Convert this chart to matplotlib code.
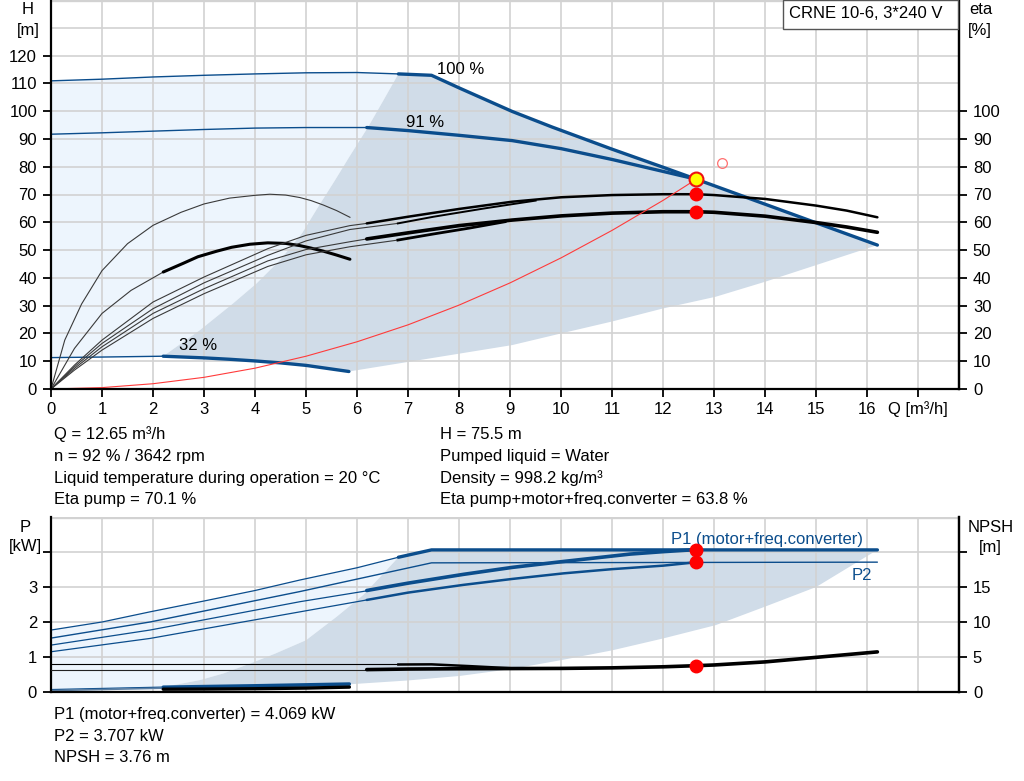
import matplotlib
matplotlib.use('Agg')
import matplotlib.pyplot as plt
from matplotlib.patches import Rectangle

plt.rcParams['font.family'] = ['Liberation Sans', 'DejaVu Sans']
plt.rcParams['font.size'] = 12

# ---------------- data: head chart ----------------
q_h100_thin = [0, 1, 2, 3, 4, 5, 6, 6.81]
h_h100_thin = [110.9, 111.5, 112.3, 112.9, 113.4, 113.8, 113.9, 113.4]
q_h100 = [6.81, 7.46, 8.02, 9.04, 9.82, 11, 12, 12.65, 14, 15, 16.2]
h_h100 = [113.4, 112.9, 108.2, 99.9, 94.3, 86.3, 79.8, 75.5, 66.5, 59.8, 51.8]
q_h91_thin = [0, 1, 2, 3, 4, 5, 6.19]
h_h91_thin = [91.7, 92.2, 92.8, 93.4, 93.9, 94.1, 94.1]
q_h91 = [6.19, 7, 8, 9.04, 10, 11, 12, 12.65]
h_h91 = [94.1, 93.0, 91.3, 89.4, 86.5, 82.6, 78.3, 75.5]
q_h32_thin = [0, 1, 2.2]
h_h32_thin = [11.3, 11.5, 11.8]
q_h32 = [2.2, 3, 3.5, 4, 4.5, 5, 5.84]
h_h32 = [11.8, 11.2, 10.7, 10.1, 9.4, 8.5, 6.3]

q_left = [2.2, 2.92, 3.57, 4.03, 4.49, 4.92, 5.24, 5.57, 5.85, 6.22, 6.52, 6.81]
h_left = [11.8, 21.2, 30.8, 38, 46.4, 56, 65.6, 75.2, 83.6, 94.4, 104, 113.4]
q_right = [5.84, 9.04, 10, 11, 12, 13.03, 14, 15, 16.2]
h_right = [6.3, 15.8, 20, 24.3, 29, 33.2, 38.6, 44.6, 51.8]

q_eta32_pump = [0, 0.27, 0.6, 1.0, 1.5, 2.0, 2.55, 3.0, 3.5, 4.0, 4.29, 4.6, 4.88, 5.1, 5.34, 5.6, 5.86]
eta32_pump = [0, 17.6, 30.6, 42.6, 52.3, 58.9, 63.6, 66.6, 68.7, 69.7, 70.1, 69.8, 68.9, 67.8, 66.2, 64.2, 61.8]
q_eta32_tot = [0, 0.46, 1.0, 1.57, 2.2, 2.6, 2.88, 3.25, 3.54, 3.9, 4.25, 4.6, 4.88, 5.1, 5.34, 5.6, 5.86]
eta32_tot = [0, 14.6, 27.2, 35.5, 42.1, 45.3, 47.6, 49.6, 51.0, 52.1, 52.6, 52.4, 51.6, 50.7, 49.6, 48.2, 46.7]

q_etaA = [0, 0.46, 1, 2, 3, 4.25, 5.0, 5.86, 6.19, 7, 8, 9.04, 10, 11, 12, 12.65, 13, 14, 15, 15.6, 16.2]
etaA = [0, 8.6, 17.6, 31.3, 40.3, 50.5, 55.3, 58.8, 59.6, 62, 64.8, 67.4, 69, 69.8, 70.1, 70.1, 69.8, 68.4, 66, 64.2, 61.8]
q_etaB = [0, 0.46, 1, 2, 3, 4.25, 5.0, 5.86, 6.8, 7.5, 8.5, 9.5]
etaB = [0, 8.0, 16.4, 28.9, 38.2, 48.1, 53.3, 57.4, 59.6, 62.0, 65.0, 67.8]
q_etaC = [0, 0.46, 1, 2, 3, 4.25, 5.0, 5.86, 6.19, 7, 8, 9.04, 10, 11, 12, 12.65, 13, 14, 15, 15.6, 16.2]
etaC = [0, 7.4, 15.2, 27.2, 36.1, 46.1, 50.2, 53, 54, 56.2, 58.8, 60.8, 62.3, 63.3, 63.8, 63.8, 63.6, 62.2, 59.9, 58.3, 56.4]
q_etaD = [0, 0.46, 1, 2, 3, 4.25, 5.0, 5.86, 6.8, 7.5, 8.2, 8.9]
etaD = [0, 6.8, 14.0, 25.4, 34.3, 44.1, 48.3, 51.2, 53.6, 55.8, 57.9, 60.2]

q_sys = [0, 1, 2, 3, 4, 5, 6, 7, 8, 9, 10, 11, 12, 12.65]
h_sys = [0, 0.5, 1.9, 4.2, 7.5, 11.8, 17, 23.1, 30.2, 38.2, 47.2, 57.1, 67.9, 75.5]

q_op = 12.65
h_op = 75.5
eta_pump_op = 70.1
eta_tot_op = 63.8
q_req, h_req = 13.15, 81.2

# ---------------- data: power / NPSH chart ----------------
q_p1_100_thin = [0, 1, 1.94, 3, 4, 4.88, 6, 6.81]
p1_100_thin = [1.77, 2.0, 2.29, 2.6, 2.9, 3.2, 3.55, 3.85]
q_p1_100 = [6.81, 7.46, 16.2]
p1_100 = [3.85, 4.06, 4.06]
q_p2_100_thin = [0, 1.94, 4.88, 7.46, 16.2]
p2_100_thin = [1.54, 2.0, 2.87, 3.69, 3.71]
q_p1_91_thin = [0, 1.94, 4.88, 6.19]
p1_91_thin = [1.34, 1.77, 2.58, 2.89]
q_p1_91 = [6.19, 7.0, 8.08, 9.04, 10.05, 11.35, 12, 12.65]
p1_91 = [2.9, 3.11, 3.36, 3.56, 3.73, 3.94, 4.01, 4.069]
q_p2_91_thin = [0, 1.94, 4.88, 6.19]
p2_91_thin = [1.15, 1.53, 2.29, 2.63]
q_p2_91 = [6.19, 7.0, 8.08, 9.04, 10.05, 11, 12, 12.65]
p2_91 = [2.63, 2.84, 3.06, 3.23, 3.39, 3.51, 3.61, 3.707]
q_p1_32_thin = [0, 2.2]
p1_32_thin = [0.07, 0.14]
q_p1_32 = [2.2, 4, 5.85]
p1_32 = [0.14, 0.18, 0.23]
q_p2_32 = [0, 2.2, 4, 5.85]
p2_32 = [0.04, 0.11, 0.14, 0.19]

q_pleft = [2.2, 2.92, 3.38, 3.9, 4.4, 5.0, 5.6, 6.12, 6.52, 6.81]
p_pleft = [0.14, 0.34, 0.53, 0.81, 1.1, 1.48, 2.15, 2.77, 3.39, 3.85]
q_pright = [5.85, 7.0, 8.02, 9.04, 10, 11, 12, 13.03, 14, 15, 16.2]
p_pright = [0.22, 0.33, 0.46, 0.66, 0.91, 1.19, 1.53, 1.91, 2.44, 3.0, 4.06]

q_npsh100_thin = [0, 6.81]
npsh100_thin = [3.93, 3.93]
q_npsh100 = [6.81, 7.46, 8.2, 9.0]
npsh100 = [3.93, 3.95, 3.7, 3.4]
q_npsh91_thin = [0, 6.19]
npsh91_thin = [3.2, 3.2]
q_npsh91 = [6.19, 7, 8, 9.04, 10, 11, 12, 12.65, 13, 14, 15, 16.2]
npsh91 = [3.2, 3.28, 3.32, 3.35, 3.37, 3.45, 3.6, 3.76, 3.86, 4.3, 4.95, 5.73]
q_npsh32 = [2.2, 3, 4, 5, 5.85]
npsh32 = [0.4, 0.42, 0.47, 0.56, 0.7]

p1_op = 4.069
p2_op = 3.707
npsh_op = 3.76

x_ticks = list(range(0, 18))
x_labels = [str(v) for v in range(0, 17)] + ['Q [m³/h]']
h_ticks = list(range(0, 121, 10))
eta_ticks = list(range(0, 101, 10))
p_ticks = [0, 1, 2, 3, 4]
p_labels = ['0', '1', '2', '3', '']
npsh_ticks = [0, 5, 10, 15, 20]
npsh_labels = ['0', '5', '10', '15', '']

BLUE = '#0b4d8c'
LIGHT = '#edf5fd'
DARK = '#d0dce8'
GRID = '#d2d2d2'
W, H = 1024, 781

fig = plt.figure(figsize=(W / 100, H / 100), dpi=100)


def fx(px):
    return px / W


def fy(py):
    return 1 - py / H


def style_axes(ax):
    ax.spines['top'].set_visible(False)
    for s in ['left', 'right', 'bottom']:
        ax.spines[s].set_linewidth(1.6)
    ax.tick_params(direction='out', length=6, width=1.3, labelsize=12, pad=4)


# ================= top chart =================
ax1 = fig.add_axes([fx(51), fy(389), fx(959 - 51), 389 / H])
ax1.set_xlim(0, 17.8)
ax1.set_ylim(0, 140)
style_axes(ax1)
ax1.set_xticks(x_ticks)
ax1.set_xticklabels(x_labels)
ax1.set_yticks(h_ticks)
ax1.grid(True, color=GRID, lw=1.2)
ax1.axhline(130, color=GRID, lw=1.2, zorder=1.5)
ax1.axhline(140, color=GRID, lw=2.4, zorder=1.5)
ax1.tick_params(axis='x', pad=3)

ax1.fill(q_h100_thin + q_left[::-1] + q_h32_thin[::-1],
         h_h100_thin + h_left[::-1] + h_h32_thin[::-1], color=LIGHT, lw=0, zorder=1)
ax1.fill(q_h100 + q_right[::-1] + q_h32[::-1] + q_left,
         h_h100 + h_right[::-1] + h_h32[::-1] + h_left, color=DARK, lw=0, zorder=1)

ax1.plot(q_h100_thin, h_h100_thin, color=BLUE, lw=1.0)
ax1.plot(q_h100, h_h100, color=BLUE, lw=2.4, solid_capstyle='round', solid_joinstyle='round')
ax1.plot(q_h91_thin, h_h91_thin, color=BLUE, lw=1.0)
ax1.plot(q_h91, h_h91, color=BLUE, lw=2.4, solid_capstyle='round', solid_joinstyle='round')
ax1.plot(q_h32_thin, h_h32_thin, color=BLUE, lw=1.0)
ax1.plot(q_h32, h_h32, color=BLUE, lw=2.4, solid_capstyle='round', solid_joinstyle='round')

THIN = '#3a3a3a'
ax1.plot(q_eta32_pump, eta32_pump, color=THIN, lw=0.8)
ax1.plot(q_eta32_tot[:5], eta32_tot[:5], color=THIN, lw=0.8)
ax1.plot(q_eta32_tot[4:], eta32_tot[4:], color='black', lw=2.2, solid_capstyle='round', solid_joinstyle='round')
ax1.plot(q_etaA[:9], etaA[:9], color=THIN, lw=0.8)
ax1.plot(q_etaA[8:], etaA[8:], color='black', lw=1.8, solid_capstyle='round', solid_joinstyle='round')
ax1.plot(q_etaB[:9], etaB[:9], color=THIN, lw=0.8)
ax1.plot(q_etaB[8:], etaB[8:], color='black', lw=1.4, solid_joinstyle='round')
ax1.plot(q_etaC[:9], etaC[:9], color=THIN, lw=0.8)
ax1.plot(q_etaC[8:], etaC[8:], color='black', lw=2.6, solid_capstyle='round', solid_joinstyle='round')
ax1.plot(q_etaD[:9], etaD[:9], color=THIN, lw=0.8)
ax1.plot(q_etaD[8:], etaD[8:], color='black', lw=2.0, solid_joinstyle='round')

ax1.plot(q_sys, h_sys, color='#ff3b3b', lw=0.8)

ax1.plot([q_req], [h_req], 'o', ms=7, mfc='none', mec='#ff7070', mew=0.9)
ax1.plot([q_op], [h_op], 'o', ms=10, mfc='#ffff00', mec='#ee1111', mew=1.5, zorder=5)
ax1.plot([q_op, q_op], [eta_pump_op, eta_tot_op], 'o', ms=9, color='#ff0000', mec='#ff0000', zorder=5, lw=0)

ax1.text(8.03, 115.1, '100 %', ha='center', va='center')
ax1.text(7.33, 96.0, '91 %', ha='center', va='center')
ax1.text(2.88, 15.8, '32 %', ha='center', va='center')

axE = ax1.twinx()
axE.set_ylim(0, 140)
axE.set_yticks(eta_ticks)
for s in ['top', 'left', 'bottom']:
    axE.spines[s].set_visible(False)
axE.spines['right'].set_linewidth(1.6)
axE.tick_params(direction='out', length=6, width=1.3, labelsize=12, pad=4)

# ================= bottom chart =================
ax2 = fig.add_axes([fx(51), fy(692), fx(959 - 51), (692 - 517) / H])
ax2.set_xlim(0, 17.8)
ax2.set_ylim(0, 5)
style_axes(ax2)
ax2.set_xticks(x_ticks)
ax2.set_xticklabels([])
ax2.tick_params(axis='x', length=0)
ax2.set_yticks(p_ticks)
ax2.set_yticklabels(p_labels)
ax2.grid(True, color=GRID, lw=1.2)
ax2.axhline(5, color=GRID, lw=2.4, zorder=1.5)

ax2.fill(q_p1_100_thin + q_pleft[::-1] + q_p1_32_thin[::-1],
         p1_100_thin + p_pleft[::-1] + p1_32_thin[::-1], color=LIGHT, lw=0, zorder=1)
ax2.fill(q_p1_100 + q_pright[::-1] + q_p1_32[::-1] + q_pleft,
         p1_100 + p_pright[::-1] + p1_32[::-1] + p_pleft, color=DARK, lw=0, zorder=1)

ax2.plot(q_p1_100_thin, p1_100_thin, color=BLUE, lw=0.9)
ax2.plot(q_p1_100, p1_100, color=BLUE, lw=2.4, solid_capstyle='round')
ax2.plot(q_p2_100_thin, p2_100_thin, color=BLUE, lw=1.0, solid_capstyle='round')
ax2.plot(q_p1_91_thin, p1_91_thin, color=BLUE, lw=0.9)
ax2.plot(q_p1_91, p1_91, color=BLUE, lw=2.6, solid_capstyle='round', solid_joinstyle='round')
ax2.plot(q_p2_91_thin, p2_91_thin, color=BLUE, lw=0.9)
ax2.plot(q_p2_91, p2_91, color=BLUE, lw=1.8, solid_capstyle='round', solid_joinstyle='round')
ax2.plot(q_p1_32_thin, p1_32_thin, color=BLUE, lw=0.9)
ax2.plot(q_p2_32, p2_32, color='#5c7fa3', lw=1.2)
ax2.plot(q_p1_32, p1_32, color=BLUE, lw=2.4, solid_capstyle='round')

ax2.text(14.04, 4.35, 'P1 (motor+freq.converter)', color=BLUE, ha='center', va='center')
ax2.text(15.89, 3.34, 'P2', color=BLUE, ha='center', va='center')

axN = ax2.twinx()
axN.set_ylim(0, 25)
axN.set_yticks(npsh_ticks)
axN.set_yticklabels(npsh_labels)
for s in ['top', 'left', 'bottom']:
    axN.spines[s].set_visible(False)
axN.spines['right'].set_linewidth(1.6)
axN.tick_params(direction='out', length=6, width=1.3, labelsize=12, pad=4)

axN.plot(q_npsh100_thin, npsh100_thin, color='black', lw=0.8)
axN.plot(q_npsh100, npsh100, color='black', lw=1.8)
axN.plot(q_npsh91_thin, npsh91_thin, color='#222222', lw=0.8)
axN.plot(q_npsh91, npsh91, color='black', lw=2.6, solid_capstyle='round', solid_joinstyle='round')
axN.plot(q_npsh32, npsh32, color='black', lw=2.4, solid_capstyle='round')

ax2.plot([q_op, q_op], [p1_op, p2_op], 'o', ms=9, color='#ff0000', lw=0, zorder=6)
axN.plot([q_op], [npsh_op], 'o', ms=9, color='#ff0000', zorder=6)

# ================= captions & texts =================
fig.text(fx(28), fy(9.3), 'H', ha='center', va='center')
fig.text(fx(28), fy(30), '[m]', ha='center', va='center')
fig.text(fx(981), fy(10), 'eta', ha='center', va='center')
fig.text(fx(980), fy(30), '[%]', ha='center', va='center')
fig.text(fx(25), fy(528), 'P', ha='center', va='center')
fig.text(fx(25), fy(546.7), '[kW]', ha='center', va='center')
fig.text(fx(991), fy(527.3), 'NPSH', ha='center', va='center')
fig.text(fx(990), fy(547.3), '[m]', ha='center', va='center')

fig.patches.append(Rectangle((fx(782.5), fy(28.5)), fx(958 - 782.5), 28.5 / H,
                             transform=fig.transFigure, fill=True, facecolor='white',
                             edgecolor='#555555', lw=1.0, zorder=10))
fig.text(fx(789), fy(13.5), 'CRNE 10-6, 3*240 V', ha='left', va='center', zorder=11)

left_lines = ['Q = 12.65 m³/h', 'n = 92 % / 3642 rpm',
              'Liquid temperature during operation = 20 °C', 'Eta pump = 70.1 %']
right_lines = ['H = 75.5 m', 'Pumped liquid = Water', 'Density = 998.2 kg/m³',
               'Eta pump+motor+freq.converter = 63.8 %']
base = [439.3, 460.9, 482.6, 504.3]
for t, b in zip(left_lines, base):
    fig.text(fx(54), fy(b), t, ha='left', va='baseline')
for t, b in zip(right_lines, base):
    fig.text(fx(440), fy(b), t, ha='left', va='baseline')
bottom_lines = ['P1 (motor+freq.converter) = 4.069 kW', 'P2 = 3.707 kW', 'NPSH = 3.76 m']
for t, b in zip(bottom_lines, [719.3, 740.8, 762.3]):
    fig.text(fx(54), fy(b), t, ha='left', va='baseline')

fig.savefig('out.png', dpi=100)
